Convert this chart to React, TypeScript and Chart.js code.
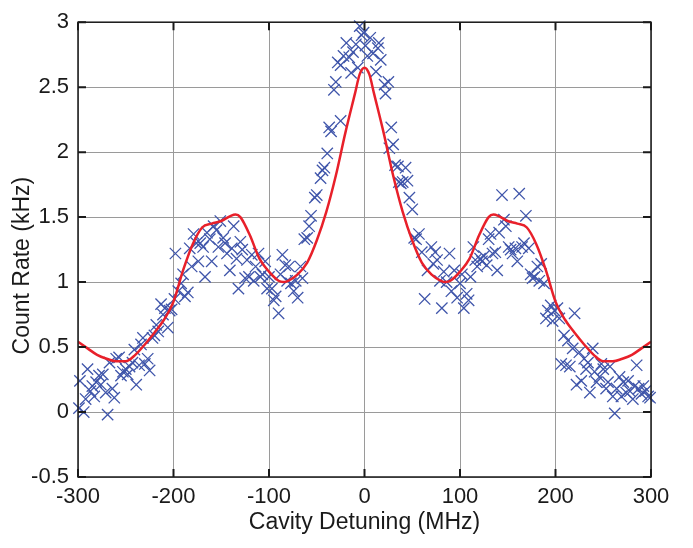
import React, { useEffect, useRef } from "react";
import { Chart, registerables } from "chart.js";

Chart.register(...registerables);

const scatterX: number[] = [
  -299, -298, -294, -292, -290, -287, -285, -283, -281, -278, -276, -274, -271, -269, -267, -264, -262, -260, -257, -255,
  -253, -250, -248, -246, -243, -241, -239, -236, -234, -232, -230, -227, -225, -222, -220, -218, -216, -213, -211, -209,
  -206, -204, -202, -199,
  -198, -195, -192, -190, -188, -185, -183, -181, -179, -176, -174, -172, -169, -167, -165, -162, -160, -158, -155, -153,
  -151, -148, -146, -144, -141, -139, -137, -134, -132, -130, -128, -125, -123, -121, -118, -116, -114, -111, -109, -107,
  -104, -102, -100,
  -97, -95, -93, -90, -88, -86, -83, -81, -79, -77, -74, -72, -70, -67, -65, -63, -60,
  -58, -56, -52, -50, -46, -44, -42, -39, -37, -35, -32, -30, -28, -25, -25, -22, -19, -16, -14, -12, -9, -7, -5, -3, -1,
  1, 3, 6, 9, 12, 14, 15, 17, 21, 22, 25, 26, 28, 30, 32, 35, 36, 38, 40, 43, 45, 47, 50, 52, 54, 57, 60, 63, 66, 70,
  72, 74, 76, 79, 81, 83, 86, 89, 91, 94, 97, 100, 102, 104, 107, 109, 111, 114, 116, 118, 121, 123, 125, 128, 130, 132,
  134, 137, 139, 141, 144, 146, 148, 151, 153, 155, 158, 160, 162, 165, 167, 169, 172, 174, 176, 178, 181, 183, 185, 188,
  190, 192, 195, 197, 199, 202,
  204, 206, 209, 211, 213, 215, 218, 220, 222, 225, 227, 230, 232, 234, 236, 239, 241, 243, 246, 248, 250, 253, 255, 257,
  260, 262, 264, 267, 269, 271, 274, 276, 278, 281, 283, 285, 287, 290, 292, 294, 297, 299,
];

const scatterY: number[] = [
  0.03, 0.24, 0.0, 0.1, 0.33, 0.16, 0.2, 0.12, 0.23, 0.28, 0.21, 0.29, 0.15, -0.02, 0.38, 0.18, 0.11, 0.41, 0.42, 0.28,
  0.31, 0.33, 0.29, 0.35, 0.38, 0.48, 0.21, 0.36, 0.52, 0.57, 0.37, 0.41, 0.32, 0.57, 0.59, 0.67, 0.62, 0.83, 0.75, 0.8,
  0.65, 0.78, 0.79, 0.87,
  1.22, 0.93, 0.99, 1.06, 0.89, 0.92, 1.26, 1.12, 1.37, 1.3, 1.16, 1.3, 1.27, 1.04, 1.38, 1.33, 1.16, 1.43, 1.4, 1.27,
  1.47, 1.34, 1.3, 1.22, 1.09, 1.26, 1.43, 1.18, 0.95, 1.31, 1.25, 1.03, 1.17, 1.04, 1.21, 1.01, 1.12, 1.22, 1.04, 1.06,
  1.16, 0.95, 1.04,
  0.95, 0.86, 0.89, 0.76, 1.06, 1.21, 1.13, 1.01, 1.12, 0.99, 0.93, 1.01, 0.88, 1.12, 1.03, 1.33, 1.34,
  1.43, 1.51, 1.65, 1.67, 1.8, 1.86, 1.88, 1.99, 2.19, 2.16, 2.48, 2.54, 2.69, 2.24, 2.67, 2.74, 2.84, 2.73, 2.61, 2.77,
  2.83, 2.65, 2.97, 2.9, 2.92,
  2.82, 2.74, 2.88, 2.76, 2.62, 2.8, 2.84, 2.71, 2.52, 2.45, 2.54, 2.03, 2.19, 2.06, 1.9, 1.89, 1.77, 1.76, 1.77, 1.88,
  1.78, 1.65, 1.56, 1.34, 1.33, 1.37, 1.23, 0.87, 1.09, 1.27,
  1.14, 1.23, 1.17, 1.01, 0.8, 1.08, 1.0, 1.22, 0.93, 1.09, 0.88, 0.99, 1.06, 0.8, 0.91, 0.86, 1.04, 1.27, 1.17, 1.12,
  1.18, 1.16, 1.2, 1.13, 1.33, 1.37,
  1.22, 1.23, 1.09, 1.38, 1.67, 1.48, 1.43, 1.27, 1.25, 1.22, 1.26, 1.16, 1.68, 1.27, 1.3, 1.51, 1.26, 1.06, 1.03, 1.04,
  1.12, 1.01, 1.14, 0.99,
  0.72, 0.78, 0.82, 0.7, 0.78, 0.8,
  0.72, 0.37, 0.59, 0.36, 0.55, 0.35, 0.49, 0.76, 0.21, 0.46, 0.24, 0.41, 0.33, 0.38, 0.15, 0.49, 0.31, 0.23, 0.27, 0.37,
  0.33, 0.18, 0.23, 0.35, 0.12, -0.01, 0.18, 0.27, 0.12, 0.23, 0.15, 0.24, 0.16, 0.1, 0.2, 0.36, 0.18, 0.14, 0.2, 0.16,
  0.12, 0.11,
];

const fitX: number[] = [
  -300, -290, -280, -270, -260, -250, -240, -230, -220, -210, -200, -190, -180, -170, -160, -150, -140, -135, -130, -120,
  -110, -100, -90, -85, -80, -70, -60, -50, -40, -30, -20, -10, -5, 0,
  5, 10, 20, 30, 40, 50, 60, 70, 80, 85, 90, 100, 110, 120, 130, 135, 140, 150, 160, 170, 180, 190, 200, 210, 220, 230,
  240, 250, 260, 270, 280, 290, 300,
];

const fitY: number[] = [
  0.54, 0.49, 0.44, 0.41, 0.39, 0.39, 0.44, 0.52, 0.61, 0.71, 0.85, 1.09, 1.29, 1.42, 1.45, 1.47, 1.51, 1.52, 1.5, 1.36,
  1.18, 1.08, 1.01, 1.0, 1.01, 1.06, 1.15, 1.32, 1.54, 1.82, 2.15, 2.45, 2.6, 2.65,
  2.6, 2.45, 2.15, 1.82, 1.54, 1.32, 1.15, 1.06, 1.01, 1.0, 1.01, 1.08, 1.18, 1.36, 1.5, 1.52, 1.51, 1.47, 1.45, 1.42,
  1.29, 1.09, 0.85, 0.71, 0.61, 0.52, 0.44, 0.39, 0.39, 0.41, 0.44, 0.49, 0.54,
];

const xTicks: number[] = [-300, -200, -100, 0, 100, 200, 300];
const yTicks: number[] = [-0.5, 0, 0.5, 1, 1.5, 2, 2.5, 3];
const yTitle = "Count Rate (kHz)";
const xTitle = "Cavity Detuning (MHz)";

const FONT = "'Liberation Sans', Arial, sans-serif";

const framePlugin = {
  id: "frameTicks",
  afterDatasetsDraw(chart: any) {
    const { ctx, chartArea } = chart;
    const { left, right, top, bottom } = chartArea;
    const xs = chart.scales.x;
    const ys = chart.scales.y;
    ctx.save();
    ctx.strokeStyle = "#1a1a1a";
    ctx.lineWidth = 1.5;
    ctx.strokeRect(left, top, right - left, bottom - top);
    ctx.lineWidth = 2;
    const len = 8;
    ctx.beginPath();
    for (const v of yTicks) {
      const py = ys.getPixelForValue(v);
      ctx.moveTo(left, py);
      ctx.lineTo(left + len, py);
      ctx.moveTo(right, py);
      ctx.lineTo(right - len, py);
    }
    for (const v of xTicks) {
      const px = xs.getPixelForValue(v);
      ctx.moveTo(px, bottom);
      ctx.lineTo(px, bottom - len);
      ctx.moveTo(px, top);
      ctx.lineTo(px, top + len);
    }
    ctx.stroke();
    // y axis title, placed slightly below the plot centre as in the reference
    ctx.translate(23, (top + bottom) / 2 + 16);
    ctx.rotate(-Math.PI / 2);
    ctx.fillStyle = "#1a1a1a";
    ctx.font = `23px ${FONT}`;
    ctx.textAlign = "center";
    ctx.textBaseline = "middle";
    ctx.fillText(yTitle, 0, 0);
    ctx.restore();
  },
};

export default function App() {
  const ref = useRef<HTMLCanvasElement | null>(null);
  useEffect(() => {
    if (!ref.current) return;
    const chart = new Chart(ref.current, {
      type: "scatter",
      data: {
        datasets: [
          {
            label: "fit",
            data: fitX.map((x, i) => ({ x, y: fitY[i] })),
            showLine: true,
            borderColor: "#e8202a",
            borderWidth: 2.5,
            pointRadius: 0,
            cubicInterpolationMode: "monotone",
            order: 0,
          } as any,
          {
            label: "data",
            data: scatterX.map((x, i) => ({ x, y: scatterY[i] })),
            pointStyle: "crossRot",
            pointRadius: 8,
            pointBorderColor: "#3f55aa",
            pointBorderWidth: 1.3,
            borderColor: "#3f55aa",
            backgroundColor: "#3f55aa",
            showLine: false,
            clip: false,
            order: 1,
          } as any,
        ],
      },
      options: {
        animation: false,
        responsive: false,
        maintainAspectRatio: false,
        layout: { padding: { left: 0, top: 14, right: 42, bottom: 0 } },
        plugins: { legend: { display: false }, tooltip: { enabled: false } },
        scales: {
          x: {
            type: "linear",
            min: -300,
            max: 300,
            afterBuildTicks: (s: any) => {
              s.ticks = xTicks.map((v) => ({ value: v }));
            },
            afterFit: (s: any) => {
              s.height = 71;
            },
            grid: { color: "#9a9a9a", lineWidth: 1, drawTicks: false },
            border: { display: false },
            ticks: {
              color: "#1a1a1a",
              font: { family: FONT, size: 22 },
              padding: 7,
              maxRotation: 0,
              callback: (v: any) => String(v),
            },
            title: {
              display: true,
              text: xTitle,
              color: "#1a1a1a",
              font: { family: FONT, size: 23 },
              padding: { top: 0, bottom: 12 },
            },
          },
          y: {
            type: "linear",
            min: -0.5,
            max: 3,
            afterBuildTicks: (s: any) => {
              s.ticks = yTicks.map((v) => ({ value: v }));
            },
            afterFit: (s: any) => {
              s.width = 78;
            },
            grid: { color: "#9a9a9a", lineWidth: 1, drawTicks: false },
            border: { display: false },
            ticks: {
              color: "#1a1a1a",
              font: { family: FONT, size: 22 },
              padding: 9,
              callback: (v: any) => String(v),
            },
            title: { display: false },
          },
        },
      },
      plugins: [framePlugin],
    });
    return () => chart.destroy();
  }, []);
  return (
    <div style={{ position: "absolute", left: 0, top: 0, width: 693, height: 548, background: "#fff" }}>
      <canvas ref={ref} width={693} height={548} style={{ display: "block" }} />
    </div>
  );
}
